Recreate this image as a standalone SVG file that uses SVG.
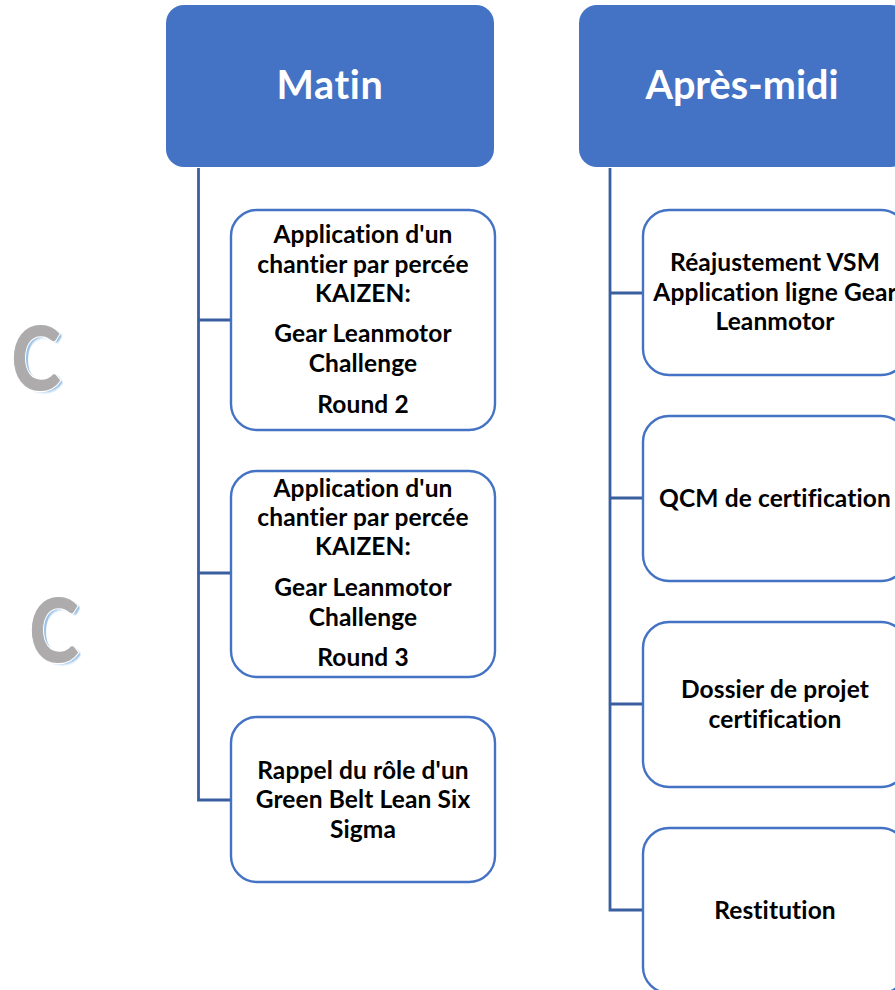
<svg xmlns="http://www.w3.org/2000/svg" width="895" height="990" viewBox="0 0 895 990">
<defs><filter id="soft" x="-20%" y="-20%" width="140%" height="140%"><feGaussianBlur stdDeviation="0.9"/></filter></defs>
<style>
text{font-family:Lato,"Liberation Sans",sans-serif;font-weight:700;text-anchor:middle;fill:#000;font-variant-ligatures:none}
.t{font-size:24.5px;letter-spacing:.12px}
.h{font-size:39.6px;fill:#fff}
.b{fill:#fff;stroke:#4472c4;stroke-width:2.4}
.hd{fill:#4472c4}
.c{fill:none;stroke:#3a5f9f;stroke-width:2.8}
.cg{font-size:88px;fill:#adabab;stroke:#adabab;stroke-width:1.2}
.cw{font-size:88px;fill:#fff;stroke:#fff;stroke-width:3.5}
.cs{font-size:88px;fill:#9cc3e8;filter:url(#soft)}
</style>
<g id="connectors">
<path class="c" d="M198.500 168V800H231M198.500 320H231M198.500 573H231"/>
<path class="c" d="M610 168V910H643M610 293H643M610 498H643M610 704H643"/>
</g>
<g id="matin"><rect class="hd" x="166" y="5" width="328" height="162" rx="18"/><text class="h" x="330" y="98.500" style="letter-spacing:.6px">Matin</text></g>
<g id="apres-midi"><rect class="hd" x="579" y="5" width="330" height="162" rx="18"/><text class="h" x="742" y="98.500">Après-midi</text></g>
<g id="m1"><rect class="b" x="231" y="210" width="264" height="220" rx="26"/>
<text class="t" x="363" y="242.500">Application d'un</text><text class="t" x="363" y="272.500">chantier par percée</text><text class="t" x="363" y="301.500">KAIZEN:</text><text class="t" x="363" y="341.500">Gear Leanmotor</text><text class="t" x="363" y="371.500">Challenge</text><text class="t" x="363" y="412.500">Round 2</text></g>
<g id="m2"><rect class="b" x="231" y="471" width="264" height="206" rx="26"/>
<text class="t" x="363" y="496.500">Application d'un</text><text class="t" x="363" y="525.500">chantier par percée</text><text class="t" x="363" y="554.500">KAIZEN:</text><text class="t" x="363" y="595.500">Gear Leanmotor</text><text class="t" x="363" y="625.500">Challenge</text><text class="t" x="363" y="665.500">Round 3</text></g>
<g id="m3"><rect class="b" x="231" y="717" width="264" height="165" rx="26"/>
<text class="t" x="363" y="778.500">Rappel du rôle d'un</text><text class="t" x="363" y="807.500">Green Belt Lean Six</text><text class="t" x="363" y="837.500">Sigma</text></g>
<g id="a1"><rect class="b" x="643" y="210" width="264" height="165" rx="26"/>
<text class="t" x="775" y="270.500">Réajustement VSM</text><text class="t" x="775" y="300.500">Application ligne Gear</text><text class="t" x="775" y="329.500">Leanmotor</text></g>
<g id="a2"><rect class="b" x="643" y="416" width="264" height="165" rx="26"/><text class="t" x="775" y="506.500">QCM de certification</text></g>
<g id="a3"><rect class="b" x="643" y="622" width="264" height="165" rx="26"/><text class="t" x="775" y="697.500">Dossier de projet</text><text class="t" x="775" y="727.500">certification</text></g>
<g id="a4"><rect class="b" x="643" y="828" width="264" height="165" rx="26"/><text class="t" x="775" y="918.500">Restitution</text></g>
<g id="c1" transform="translate(36 390) scale(.84 1)"><text class="cs" x="4" y="2">C</text><text class="cw">C</text><text class="cg">C</text></g>
<g id="c2" transform="translate(54 662) scale(.84 1)"><text class="cs" x="4" y="2">C</text><text class="cw">C</text><text class="cg">C</text></g>
</svg>
